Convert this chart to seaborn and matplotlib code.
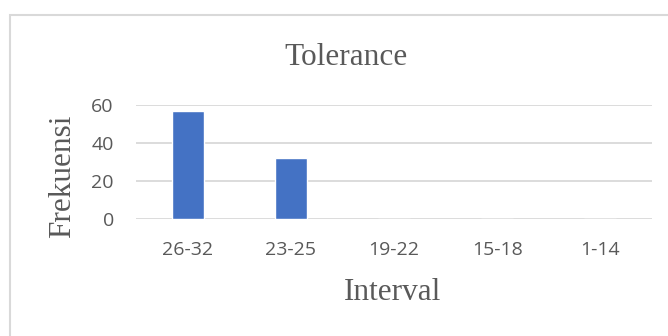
import matplotlib
matplotlib.use('Agg')
import matplotlib.pyplot as plt
import seaborn as sns
import pandas as pd
from matplotlib.patches import Rectangle

intervals = ['26-32', '23-25', '19-22', '15-18', '1-14']
frekuensi = [57, 32, 0, 0, 0]
y_ticks = [0, 20, 40, 60]

df = pd.DataFrame({'Interval': intervals, 'Frekuensi': frekuensi})

sns.set_style('white')
W, H = 668, 336
fig = plt.figure(figsize=(W / 100, H / 100), dpi=100)
fig.patch.set_facecolor('white')

# chart frame like the Excel chart area (runs off the right/bottom edge)
fig.patches.append(Rectangle((10 / W, -0.05), 1.0, 1 - 15 / H + 0.05,
                             transform=fig.transFigure, fill=False,
                             edgecolor='#d9d9d9', linewidth=1.5))

ax = fig.add_axes([136 / W, 1 - 219 / H, 516 / W, 114 / H])
sns.barplot(data=df, x='Interval', y='Frekuensi', color='#4472c4',
            width=0.31, saturation=1, ax=ax)

ax.set_ylim(0, 60)
ax.set_yticks(y_ticks)
ax.set_xlim(-0.5, len(intervals) - 0.5)
ax.yaxis.grid(True, color='#d9d9d9', linewidth=1.3)
ax.set_axisbelow(True)
for s in ax.spines.values():
    s.set_visible(False)
ax.tick_params(axis='both', length=0, labelsize=14, labelcolor='#595959')
ax.tick_params(axis='x', pad=16)
ax.tick_params(axis='y', pad=16)
for lbl in ax.get_xticklabels() + ax.get_yticklabels():
    lbl.set_fontfamily('Open Sans')
ax.set_xlabel('')
ax.set_ylabel('')

serif = dict(fontfamily='Liberation Serif', fontsize=22.5, color='#595959')
fig.text(346 / W, 1 - 65 / H, 'Tolerance', ha='center', va='baseline', **serif)
fig.text(392.5 / W, 1 - 300 / H, 'Interval', ha='center', va='baseline', **serif)
fig.text(63 / W, 1 - 176.5 / H, 'Frekuensi', ha='center', va='center',
         rotation=90, **serif)

fig.savefig('out.png', dpi=100, facecolor='white')
